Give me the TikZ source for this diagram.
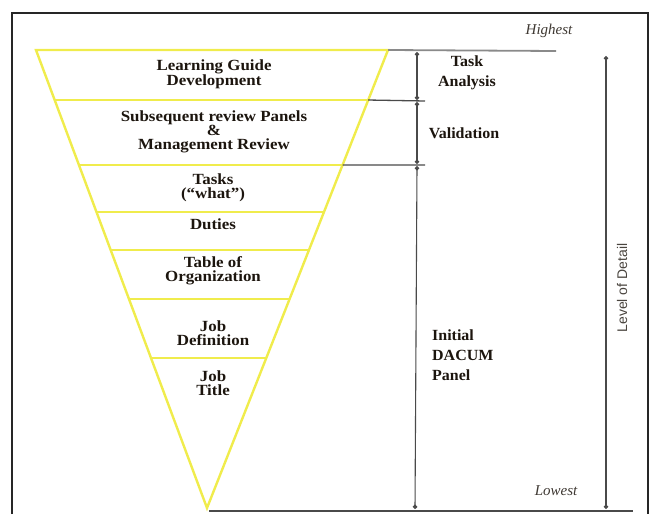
\documentclass[tikz,border=0pt]{standalone}
\usepackage{fontspec}
\setmainfont{Liberation Serif}
\setsansfont{Liberation Sans}
\usetikzlibrary{calc,arrows.meta}

\definecolor{ink}{HTML}{1C150E}
\definecolor{funnel}{HTML}{F0EC4C}
\definecolor{rule}{HTML}{4A4A4A}
\definecolor{softrule}{HTML}{8A8A8A}

\tikzset{
  layertext/.style={font=\fontsize{15.5}{14}\selectfont\bfseries, align=center, text=ink, inner sep=0pt, xscale=1.09},
  sidetext/.style={font=\fontsize{15.5}{20}\selectfont\bfseries, text=ink, inner sep=0pt, xscale=1.03},
  endtext/.style={font=\fontsize{15}{18}\selectfont\itshape, text=ink!85, inner sep=0pt},
  funneledge/.style={draw=funnel, line width=2.4pt, line join=miter},
  frameline/.style={draw=black!85, line width=1.6pt},
  tickline/.style={draw=rule, line width=1.3pt},
  dimline/.style={draw=rule, line width=1.1pt, {Circle[length=4.5pt]}-{Circle[length=4.5pt]}},
}

\begin{document}
\begin{tikzpicture}[x=1pt, y=-1pt]
\useasboundingbox (0,0) rectangle (652,514);

% outer frame (open at the bottom)
\draw[frameline] (12,514) -- (12,13) -- (648,13) -- (648,514);

% funnel corners
\coordinate (tl) at (36,50);
\coordinate (tr) at (388,50);
\coordinate (apex) at (207,508);

% divider end points along the funnel sides
\foreach \t [count=\i] in {0.1092,0.2511,0.3537,0.4367,0.5437,0.6725} {
  \coordinate (d\i l) at ($(tl)!\t!(apex)$);
  \coordinate (d\i r) at ($(tr)!\t!(apex)$);
}

% funnel outline and layer dividers
\draw[funneledge] (tl) -- (tr) -- (apex) -- cycle;
\foreach \i in {1,...,6} { \draw[funneledge] (d\i l) -- (d\i r); }

% layer labels
\node[layertext] (lgd)  at (214,74)  {Learning Guide\\Development};
\node[layertext] (srp)  at (214,132) {Subsequent review Panels\\\&\\Management Review};
\node[layertext] (tsk)  at (213,188) {Tasks\\(“what”)};
\node[layertext] (dut)  at (213,224) {Duties};
\node[layertext] (tab)  at (213,271) {Table of\\Organization};
\node[layertext] (jdef) at (213,333) {Job\\Definition};
\node[layertext] (jtit) at (213,383) {Job\\Title};

% reference lines to the right of the funnel
\coordinate (topend) at (556,51);
\coordinate (k1) at (425,101);
\coordinate (k2) at (425,165);
\coordinate (botstart) at (209,511);
\coordinate (botend) at (633,511);
\draw[draw=softrule, line width=1.8pt] (tr) -- (topend);
\draw[tickline] (d1r) -- (k1);
\draw[tickline] (d2r) -- (k2);
\draw[draw=rule, line width=1.6pt] (botstart) -- (botend);

% phase spans
\coordinate (s0) at (417,52);
\coordinate (s1a) at (417,100);
\coordinate (s1b) at (417,102);
\coordinate (s2a) at (417,164);
\coordinate (s2b) at (417,166);
\coordinate (s3) at (415,509);
\draw[dimline] (s0) -- (s1a);
\draw[dimline] (s1b) -- (s2a);
\draw[dimline] (s2b) -- (s3);

% phase labels
\node[sidetext, align=center] (ta)  at (467,73)  {Task\\Analysis};
\node[sidetext] (val) at (464,133) {Validation};
\node[sidetext, align=left, anchor=west] (idp) at (432,355) {Initial\\DACUM\\Panel};

% level-of-detail scale
\coordinate (lvtop) at (606,56);
\coordinate (lvbot) at (606,509);
\draw[draw=rule, line width=1.1pt, {Circle[length=4.5pt]}-{Circle[length=4.5pt]}] (lvtop) -- (lvbot);
\node[font=\sffamily\fontsize{14}{16}\selectfont, text=ink!80, rotate=90, inner sep=0pt] (lod) at (622,288) {Level of Detail};
\node[endtext] (hi) at (549,31) {Highest};
\node[endtext] (lo) at (556,491) {Lowest};
\end{tikzpicture}
\end{document}
